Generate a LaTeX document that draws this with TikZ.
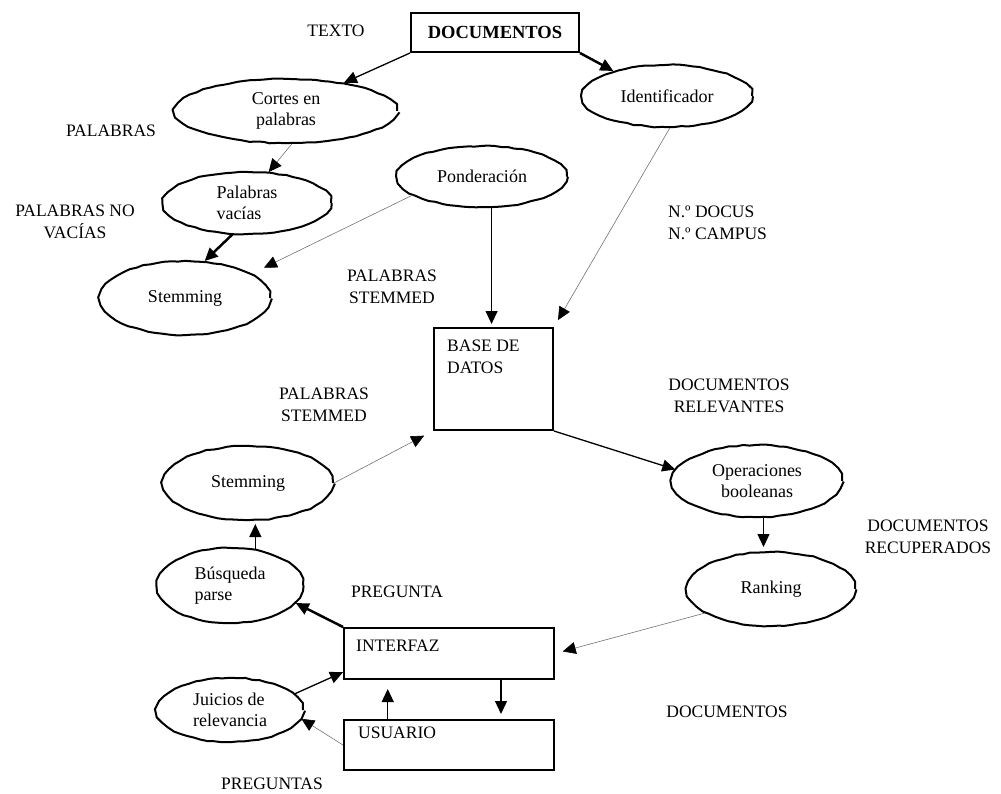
\documentclass[tikz,border=0pt]{standalone}
\usepackage{fontspec}
\setmainfont{Liberation Serif}
\usetikzlibrary{shapes.geometric,arrows.meta,decorations.pathmorphing}

\begin{document}
\begin{tikzpicture}[x=1pt,y=-1pt,
    font=\fontsize{17.5}{21.5}\selectfont,
    oval/.style={ellipse, draw, line width=2pt, inner sep=0pt, align=center,
        font=\fontsize{18}{21}\selectfont, line join=round,
        decorate, decoration={random steps, segment length=7pt, amplitude=0.6pt}},
    box/.style={rectangle, draw, line width=2pt, inner sep=0pt},
    boxtext/.style={anchor=north west, inner sep=0pt, align=left},
    tag/.style={align=center, inner sep=0pt},
    link/.style={-{Triangle[length=13pt,width=12pt,color=black]}, line width=1.3pt},
    boldlink/.style={link, line width=2.5pt},
    faintlink/.style={link, line width=0.6pt, draw=black!55}]

    % Page frame
    \useasboundingbox (0,0) rectangle (1001,794);

    % Documents and indexing
    \node[box, minimum width=168pt, minimum height=39pt, font=\fontsize{18.5}{21}\selectfont\bfseries] (docs) at (495,32.5) {DOCUMENTOS};
    \node[oval, minimum width=222pt, minimum height=64pt] (cortes) at (286,111) {Cortes en\\palabras};
    \node[oval, minimum width=170pt, minimum height=62pt] (ident) at (667,96) {Identificador};
    \node[oval, minimum width=168pt, minimum height=62pt, align=left] (vacias) at (247,203) {Palabras\\vacías};
    \node[oval, minimum width=170pt, minimum height=74pt] (stemA) at (185,298) {Stemming};
    \node[oval, minimum width=170pt, minimum height=61pt] (ponder) at (482,176.5) {Ponderación};

    % Data base
    \node[box, minimum width=119pt, minimum height=102pt] (base) at (493.5,379) {};
    \node[boxtext] (basetxt) at ([xshift=14pt,yshift=-13pt]base.north west) {BASE DE\\DATOS};

    % Retrieval
    \node[oval, minimum width=170pt, minimum height=72pt] (oper) at (757,481) {Operaciones\\booleanas};
    \node[oval, minimum width=168pt, minimum height=74pt] (rank) at (771,589) {Ranking};
    \node[oval, minimum width=170pt, minimum height=74pt] (stemB) at (248,483) {Stemming};
    \node[oval, minimum width=146pt, minimum height=75pt, align=left] (busq) at (230,585.5) {Búsqueda\\parse};
    \node[oval, minimum width=146pt, minimum height=64pt, align=left] (juicios) at (230,710) {Juicios de\\relevancia};

    % Interface and user
    \node[box, minimum width=210pt, minimum height=51pt] (interfaz) at (449,653.5) {};
    \node[boxtext] (interfaztxt) at ([xshift=13pt,yshift=-13pt]interfaz.north west) {INTERFAZ};
    \node[box, minimum width=210pt, minimum height=50pt] (usuario) at (449,745) {};
    \node[boxtext] (usuariotxt) at ([xshift=15pt,yshift=-8pt]usuario.north west) {USUARIO};

    % Flow labels
    \node[tag] (texto) at (336,31) {TEXTO};
    \node[tag] (palabras) at (111,131) {PALABRAS};
    \node[tag] (novacias) at (75,222) {PALABRAS NO\\VACÍAS};
    \node[tag, anchor=west, align=left] (docus) at (668,223) {N.º DOCUS\\N.º CAMPUS};
    \node[tag] (stemmedA) at (392,287) {PALABRAS\\STEMMED};
    \node[tag] (stemmedB) at (324,405) {PALABRAS\\STEMMED};
    \node[tag] (relev) at (729,396) {DOCUMENTOS\\RELEVANTES};
    \node[tag] (recup) at (928,537) {DOCUMENTOS\\RECUPERADOS};
    \node[tag] (pregunta) at (397,592) {PREGUNTA};
    \node[tag] (docsout) at (727,712) {DOCUMENTOS};
    \node[tag] (preguntas) at (272,784) {PREGUNTAS};

    % Indexing arrows
    \draw[link] (docs.south west) -- (cortes.26);
    \draw[boldlink] (docs.south east) -- (ident.155);
    \draw[faintlink] (cortes.-80) -- (vacias.55);
    \draw[boldlink] (vacias.-115) -- (stemA.62);
    \draw[faintlink, shorten >=14pt] (ponder.-165) -- (stemA.20);
    \draw[link, shorten >=3pt] (ponder.-73) -- (ponder.-73 |- base.north);
    \draw[faintlink, shorten >=8pt] (ident.-85) -- (base.north east);

    % Retrieval arrows
    \draw[link] (base.south east) -- (oper.172);
    \draw[faintlink, shorten >=10pt] (stemB.east) -- (base.south west);
    \draw[link, shorten >=4pt] (oper.-80) -- (oper.-80 |- rank.north);
    \draw[faintlink, shorten >=8pt] (rank.-160) -- (interfaz.east);
    \draw[link, shorten >=3pt] (busq.55) -- (busq.55 |- stemB.south);
    \draw[boldlink] (interfaz.north west) -- (busq.-15);
    \draw[link] (juicios.14) -- (interfaz.190);
    \draw[link, shorten >=9pt] (usuario.157) -- (usuario.157 |- interfaz.south);
    \draw[link, shorten >=5pt] (interfaz.-27.5) -- (interfaz.-27.5 |- usuario.north);
    \draw[faintlink] (usuario.west) -- (juicios.-7);

\end{tikzpicture}
\end{document}
